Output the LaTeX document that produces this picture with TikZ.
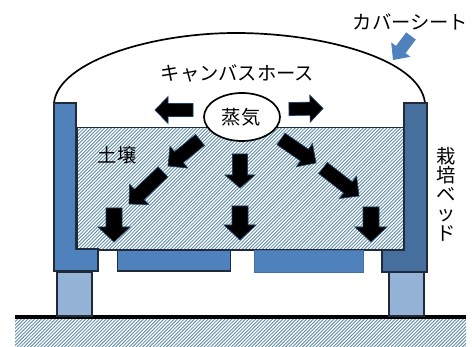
\documentclass[tikz,border=0pt]{standalone}
\usepackage{fontspec}
\setmainfont{Noto Sans CJK JP}
\usetikzlibrary{calc,shapes.geometric}
\definecolor{wallblue}{HTML}{4F81BD}
\definecolor{wallright}{HTML}{466F9E}
\definecolor{footblue}{HTML}{95B3D7}
\definecolor{edgedark}{HTML}{1F2A3A}
\definecolor{hatchcol}{HTML}{5F8CA6}
\definecolor{arrowedge}{HTML}{1F3F63}
\tikzset{
  wall/.style={draw=edgedark,line width=1.1pt,line join=miter},
  barrow/.style={fill=black,draw=arrowedge,line width=0.7pt,line join=miter},
  blueptr/.style={fill=wallblue,draw=none},
  hatchline/.style={draw=hatchcol,line width=0.85pt},
  lbl/.style={font=\fontsize{19.3}{19.3}\selectfont,inner sep=0pt,text=black},
}
\newcommand\blockarrow[6][barrow]{%
  \coordinate (tl) at (#2);\coordinate (hd) at (#3);
  \coordinate (nk) at ($(hd)!#6pt!(tl)$);
  \path[#1] ($(tl)!#4pt!90:(hd)$) -- ($(nk)!#4pt!90:(hd)$) -- ($(nk)!#5pt!90:(hd)$) -- (hd)
    -- ($(nk)!#5pt!-90:(hd)$) -- ($(nk)!#4pt!-90:(hd)$) -- ($(tl)!#4pt!-90:(hd)$) -- cycle;}
\begin{document}
\begin{tikzpicture}[x=1pt,y=-1pt]
\useasboundingbox (0,0) rectangle (472,347);
\fill[white] (0,0) rectangle (472,347);
% ground
\begin{scope}
  \clip (15,318) rectangle (466,347);
  \foreach \i in {0,...,150} {\draw[hatchline] ({\i*3.4-20},350) -- ++(36,-36);}
\end{scope}
\draw[line width=3.6pt,black] (15,317) -- (466,317);
% feet
\draw[wall,fill=footblue] (57,272) rectangle (92,316);
\draw[wall,fill=footblue] (389,272) rectangle (424,316);
% cover
\draw[line width=1.7pt,black] (54,103) .. controls (58,62) and (150,33) .. (236,33)
  .. controls (320,33) and (420,58) .. (425,103);
% soil
\begin{scope}
  \clip (77,127.5) rectangle (404,250);
  \foreach \i in {0,...,140} {\draw[hatchline] ({-60+\i*3.4},252) -- ++(128,-128);}
\end{scope}
\draw[wall] (77,127.5) rectangle (404,250);
% plates
\draw[wall,fill=wallblue] (117.5,250) rectangle (230.5,271);
\draw[draw=wallright,line width=1pt,fill=wallblue] (254,250.5) rectangle (363,273);
% walls
\draw[wall,fill=wallblue] (54,103) -- (76,103) -- (76,249) -- (98,249) -- (98,271) -- (54,271) -- cycle;
\draw[wall,fill=wallright] (427,103) -- (404,103) -- (404,250) -- (382,250) -- (382,272) -- (427,272) -- cycle;
% steam
\node[ellipse,draw=black,line width=1.7pt,fill=white,minimum width=76pt,minimum height=48pt,inner sep=0pt] (steam) at (242,117) {};
\node[lbl] (steamtxt) at (241,117) {蒸気};
% block arrows
\blockarrow{193,110}{155,110}{6.5}{13.5}{13}
\blockarrow{289,109}{323,108.5}{6.5}{13.5}{13}
\blockarrow{200,140}{168,166}{7}{14}{14}
\blockarrow{281,139}{316,163}{7}{14}{14}
\blockarrow{240,154}{240,188}{7.5}{15}{13}
\blockarrow{163,172}{129,204}{7}{14}{14}
\blockarrow{323,168}{359,196}{7}{14}{14}
\blockarrow{114,208}{114,242}{8}{16}{15}
\blockarrow{240,206}{240,240}{8}{16}{15}
\blockarrow{371,207}{371,242}{8}{16}{15}
\blockarrow[blueptr]{411,36}{393,60}{6}{12}{13}
% labels
\node[lbl] (hose) at (237.5,73) {キャンバスホース};
\node[lbl] (sheet) at (410.5,22) {カバーシート};
\node[lbl] (soillbl) at (117,155) {土壌};
\node[lbl,align=center] (bedlbl) at (446,194) {栽\\培\\ベ\\ッ\\ド};
\end{tikzpicture}
\end{document}
